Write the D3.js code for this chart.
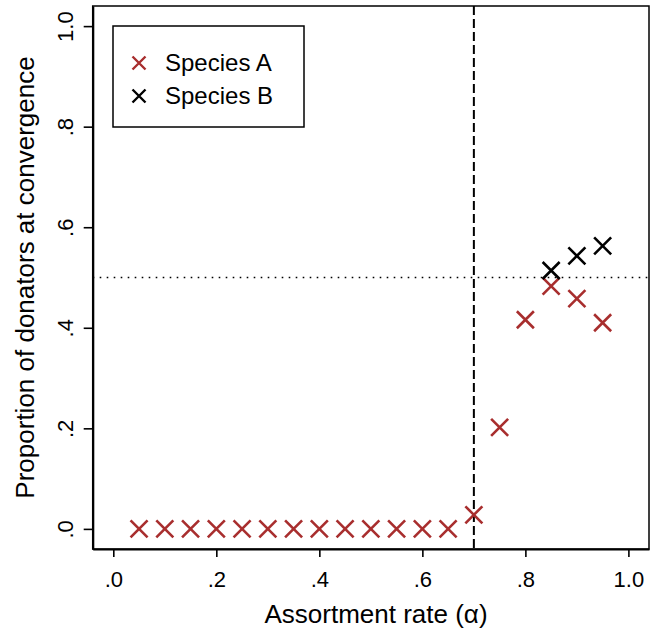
<!DOCTYPE html>
<html lang="en">
<head>
  <meta charset="UTF-8">
  <title>Donators at convergence</title>
  <script src="https://cdn.jsdelivr.net/npm/d3@7"></script>
  <style>
    body { margin: 0; background: #fff; }
    text { font-family: "Liberation Sans", Arial, sans-serif; fill: #000; }
  </style>
</head>
<body>
<div id="chart"></div>
<script>
  // data
  const alphaA = [0.05, 0.10, 0.15, 0.20, 0.25, 0.30, 0.35, 0.40, 0.45, 0.50, 0.55, 0.60, 0.65, 0.70, 0.75, 0.80, 0.85, 0.90, 0.95]
  const donatorsA = [0, 0, 0, 0, 0, 0, 0, 0, 0, 0, 0, 0, 0, 0.028, 0.202, 0.416, 0.483, 0.458, 0.410]
  const alphaB = [0.85, 0.90, 0.95]
  const donatorsB = [0.514, 0.543, 0.563]
  const tickValues = [0, 0.2, 0.4, 0.6, 0.8, 1.0]
  const threshold = 0.7
  const halfLine = 0.5
  const seriesNames = ['Species A', 'Species B']
  const seriesColors = ['#a82e2e', '#000000']

  // layout
  const width = 657
  const height = 631
  const plotLeft = 92.7, plotRight = 649, plotTop = 6, plotBottom = 549

  const svg = d3.select('#chart')
    .append('svg')
    .attr('width', width)
    .attr('height', height)

  const x = d3.scaleLinear().domain([-0.04, 1.04]).range([plotLeft, plotRight])
  const y = d3.scaleLinear().domain([-0.04, 1.04]).range([plotBottom, plotTop])

  const fmt = d => d === 1 ? '1.0' : d3.format('.1f')(d).replace(/^0/, '')

  // frame
  svg.append('rect')
    .attr('x', plotLeft).attr('y', plotTop)
    .attr('width', plotRight - plotLeft).attr('height', plotBottom - plotTop)
    .attr('fill', 'none').attr('stroke', '#000').attr('stroke-width', 1.5)

  // axes
  svg.append('g')
    .attr('transform', `translate(0,${plotBottom})`)
    .call(d3.axisBottom(x).tickValues(tickValues).tickFormat(fmt).tickSize(8).tickPadding(14).tickSizeOuter(0))
    .call(g => g.select('.domain').attr('stroke-width', 2.2))
    .call(g => g.selectAll('.tick line').attr('stroke-width', 1.6))
    .call(g => g.selectAll('.tick text').attr('font-size', 22).attr('fill', '#000'))

  svg.append('g')
    .attr('transform', `translate(${plotLeft},0)`)
    .call(d3.axisLeft(y).tickValues(tickValues).tickFormat(fmt).tickSize(9).tickSizeOuter(0))
    .call(g => g.select('.domain').attr('stroke-width', 2.2))
    .call(g => g.selectAll('.tick line').attr('stroke-width', 1.6))
    .call(g => g.selectAll('.tick text')
      .attr('font-size', 22).attr('fill', '#000')
      .attr('x', null).attr('dy', null)
      .attr('text-anchor', 'middle')
      .attr('transform', 'translate(-20,0) rotate(-90)'))

  // axis titles
  svg.append('text')
    .attr('x', 376)
    .attr('y', 623)
    .attr('text-anchor', 'middle')
    .attr('font-size', 26)
    .text('Assortment rate (α)')

  svg.append('text')
    .attr('transform', `translate(34,${(y(0) + y(1)) / 2}) rotate(-90)`)
    .attr('text-anchor', 'middle')
    .attr('font-size', 26)
    .text('Proportion of donators at convergence')

  // reference lines
  svg.append('line')
    .attr('x1', x(threshold)).attr('x2', x(threshold))
    .attr('y1', plotTop).attr('y2', plotBottom)
    .attr('stroke', '#000').attr('stroke-width', 2)
    .attr('stroke-dasharray', '9,4')

  svg.append('line')
    .attr('x1', plotLeft).attr('x2', plotRight)
    .attr('y1', y(halfLine)).attr('y2', y(halfLine))
    .attr('stroke', '#000').attr('stroke-width', 1.6)
    .attr('stroke-dasharray', '1.6,5.4')

  // markers
  const cross = (sel, r) => sel.attr('d', `M${-r},${-r}L${r},${r}M${-r},${r}L${r},${-r}`)

  const drawSeries = (xs, ys, color) => {
    svg.append('g')
      .selectAll('path')
      .data(xs.map((d, i) => [d, ys[i]]))
      .join('path')
      .attr('transform', d => `translate(${x(d[0])},${y(d[1])})`)
      .call(cross, 8.5)
      .attr('fill', 'none')
      .attr('stroke', color)
      .attr('stroke-width', 2.6)
  }

  drawSeries(alphaA, donatorsA, seriesColors[0])
  drawSeries(alphaB, donatorsB, seriesColors[1])

  // legend
  const legend = svg.append('g')
  legend.append('rect')
    .attr('x', 113).attr('y', 26)
    .attr('width', 191).attr('height', 101)
    .attr('fill', '#fff').attr('stroke', '#000').attr('stroke-width', 1.5)

  seriesNames.forEach((name, i) => {
    const cy = 63 + i * 33
    legend.append('path')
      .attr('transform', `translate(139,${cy})`)
      .call(cross, 6.5)
      .attr('fill', 'none')
      .attr('stroke', seriesColors[i])
      .attr('stroke-width', 2.4)
    legend.append('text')
      .attr('x', 165).attr('y', cy)
      .attr('dy', '0.35em')
      .attr('font-size', 24)
      .text(name)
  })
</script>
</body>
</html>
